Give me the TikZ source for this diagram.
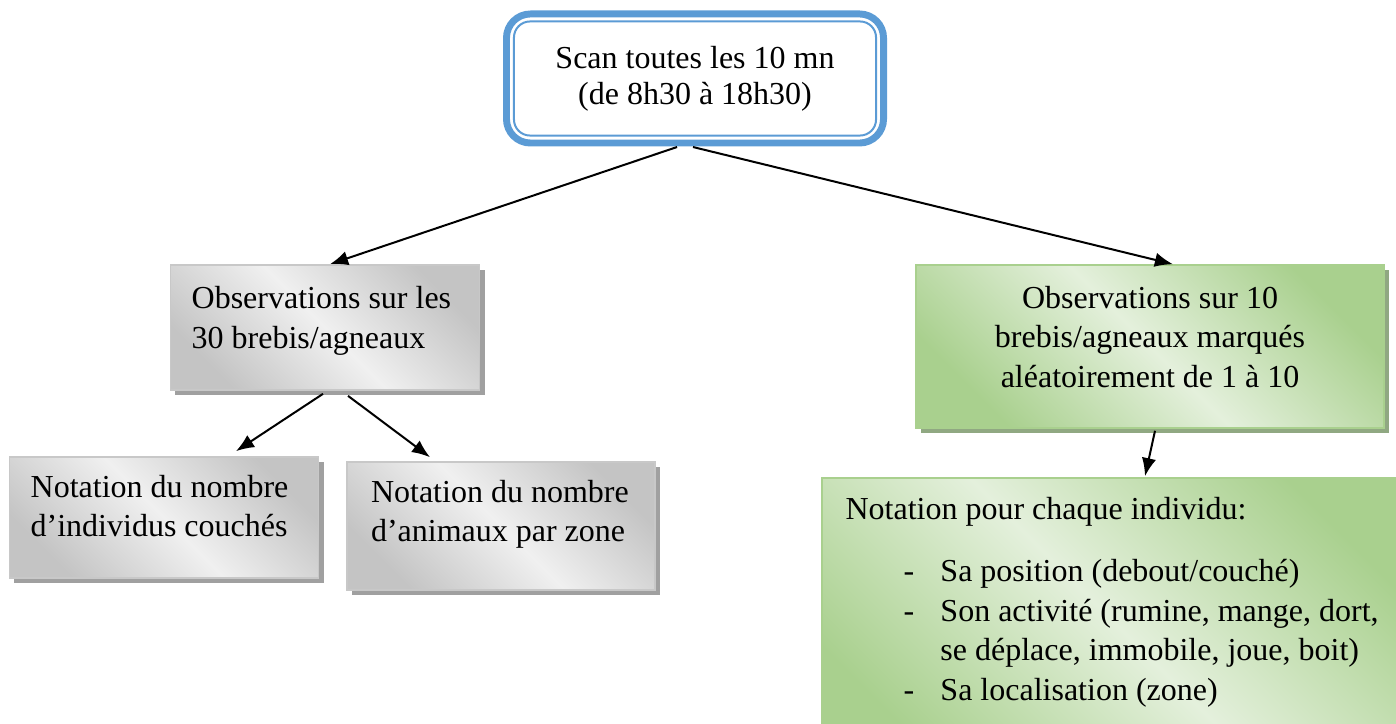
\documentclass[tikz,border=0pt]{standalone}
\usepackage{fontspec}
\setmainfont{Liberation Serif}
\usepackage{tikz}
\usetikzlibrary{positioning,shadows,arrows.meta}
\frenchspacing

\begin{document}
\begin{tikzpicture}[x=0.375pt,y=-0.375pt,
    every node/.style={font=\fontsize{12}{14.8}\selectfont, execute at begin node={\spaceskip=3pt\relax}},
    flow/.style={line width=0.75pt, -{Latex[length=6.8pt,width=5.4pt]}},
    graybox/.style={draw=grayedge, line width=0.6pt, left color=grayside, right color=grayside,
        middle color=graymid, shading angle=135, inner xsep=8pt, text width=100pt, align=left,
        drop shadow={shadow xshift=1.9pt, shadow yshift=-1.9pt, fill=grayshadow, opacity=1}},
    greenbox/.style={draw=greenedge, line width=0.6pt, left color=greenside, right color=greenside,
        middle color=greenmid, shading angle=135, inner xsep=0pt,
        drop shadow={shadow xshift=1.9pt, shadow yshift=-1.9pt, fill=greenshadow, opacity=1}}]
            % colours
            \definecolor{blueC}{HTML}{5B9BD5}
            \definecolor{grayedge}{HTML}{C8C8C8}
            \definecolor{grayside}{HTML}{C4C4C4}
            \definecolor{graymid}{HTML}{F0F0F0}
            \definecolor{grayshadow}{HTML}{A0A0A0}
            \definecolor{greenedge}{HTML}{A9D08E}
            \definecolor{greenside}{HTML}{A9D08E}
            \definecolor{greenmid}{HTML}{E4F0DC}
            \definecolor{greenshadow}{HTML}{90A882}
            \clip (0,0) rectangle (1396,723);
            \node[draw=blueC, fill=white, line width=2.6pt, outer sep=0pt, rounded corners=9pt, align=center,
                minimum width=141.4pt, minimum height=48.4pt, font=\fontsize{12}{13.6}\selectfont] (scan) at (695,78.5)
                {Scan toutes les 10 mn\\(de 8h30 à 18h30)};
            \draw[blueC, line width=0.75pt, rounded corners=6pt]
                ([shift={(7.5,7.5)}]scan.north west) rectangle ([shift={(-7.5,-7.5)}]scan.south east);
            \node[graybox, minimum height=46.9pt, text depth=22.4pt] (obs) at (325,327.5)
                {Observations sur les\\30 brebis/agneaux};
            \node[greenbox, text width=175.5pt, align=center, minimum height=61.1pt, text depth=37pt] (marked) at (1150,346.5)
                {Observations sur 10\\brebis/agneaux marqués\\aléatoirement de 1 à 10};
            \node[graybox, minimum height=45.4pt, text depth=23.5pt] (lying) at (164,517.5)
                {Notation du nombre\\d’individus couchés};
            \node[graybox, minimum height=48pt, text depth=26pt, inner xsep=9pt, text width=97.5pt] (zone) at (501,526)
                {Notation du nombre\\d’animaux par zone};
            \node[greenbox, minimum width=224.25pt, minimum height=113.25pt] (indiv) at (1121,629) {};
            \node[anchor=base west, inner sep=0pt, text width=220pt, align=left] (indivtxt) at (845,519)
                {Notation pour chaque individu:\\[8.8pt]
                \hspace*{21.75pt}\makebox[13.85pt][l]{-}Sa position (debout/couché)\\
                \hspace*{21.75pt}\makebox[13.85pt][l]{-}Son activité (rumine, mange, dort,\\
                \hspace*{35.6pt}se déplace, immobile, joue, boit)\\
                \hspace*{21.75pt}\makebox[13.85pt][l]{-}Sa localisation (zone)};
            \draw[flow] ([shift={(-18,4)}]scan.south) -- ([shift={(5,0)}]obs.north);
            \draw[flow] ([shift={(-2,4)}]scan.south) -- ([shift={(23,0)}]marked.north);
            \draw[flow] ([shift={(-2,3)}]obs.south) -- ([shift={(72,-5)}]lying.north);
            \draw[flow] ([shift={(23,5)}]obs.south) -- ([shift={(-71,-4)}]zone.north);
            \draw[flow] ([shift={(5,2)}]marked.south) -- ([shift={(24,-1)}]indiv.north);
        \end{tikzpicture}
\end{document}
